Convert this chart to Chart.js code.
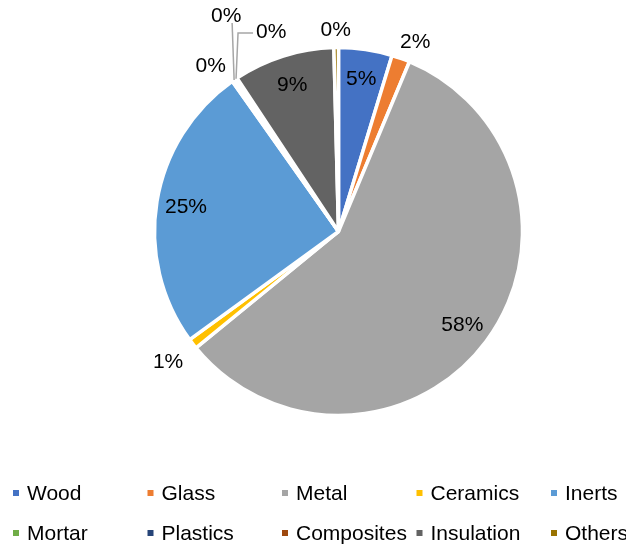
<!DOCTYPE html>
<html>
<head>
<meta charset="utf-8">
<style>
  html, body { margin: 0; padding: 0; background: #fff; }
  #wrap { width: 626px; height: 546px; }
</style>
<script src="https://cdn.jsdelivr.net/npm/chart.js@4/dist/chart.umd.min.js"></script>
</head>
<body>
<div id="wrap"><canvas id="wasteChart" width="626" height="546"></canvas></div>
<script>
// Material categories and their share (%)
const materials = ['Wood', 'Glass', 'Metal', 'Ceramics', 'Inerts', 'Mortar', 'Plastics', 'Composites', 'Insulation', 'Others'];
const shares = [4.7, 1.6, 57.8, 0.9, 25.2, 0.1, 0.2, 0.2, 8.9, 0.4];
const sliceColors = ['#4472C4', '#ED7D31', '#A5A5A5', '#FFC000', '#5B9BD5', '#70AD47', '#264478', '#9E480E', '#636363', '#997300'];

const FONT = '21px "Liberation Sans", Arial, sans-serif';

// Etichette percentuali sulle fette
const sliceLabels = {
    id: 'sliceLabels',
    afterDatasetsDraw(chart) {
        const ctx = chart.ctx;
        const meta = chart.getDatasetMeta(0);
        const total = shares.reduce((s, v) => s + v, 0);
        ctx.save();
        ctx.font = FONT;
        ctx.fillStyle = '#000';
        ctx.textBaseline = 'middle';
        meta.data.forEach((arc, i) => {
            const p = arc.getProps(['x', 'y', 'startAngle', 'endAngle', 'outerRadius'], true);
            const mid = (p.startAngle + p.endAngle) / 2;
            const cos = Math.cos(mid), sin = Math.sin(mid);
            const text = Math.round(shares[i] / total * 100) + '%';
            const ox = p.x + cos * p.outerRadius;
            const oy = p.y + sin * p.outerRadius;
            if (i === 6 || i === 7) {
                // linee guida per le fette piccole
                ctx.strokeStyle = '#A6A6A6';
                ctx.lineWidth = 1.5;
                ctx.beginPath();
                ctx.moveTo(ox, oy);
                if (i === 6) {
                    ctx.lineTo(ox - 2, 23);
                    ctx.stroke();
                    ctx.textAlign = 'center';
                    ctx.fillText(text, ox - 8, 16);
                } else {
                    ctx.lineTo(ox + 2, 33);
                    ctx.lineTo(ox + 17, 33);
                    ctx.stroke();
                    ctx.textAlign = 'left';
                    ctx.fillText(text, ox + 20, 32);
                }
                return;
            }
            ctx.textAlign = 'center';
            if (shares[i] >= 3) {
                const r = p.outerRadius * 0.84;
                ctx.fillText(text, p.x + cos * r, p.y + sin * r + 1);
                return;
            }
            // fuori dalla torta, il riquadro del testo si allontana dal bordo
            const w = ctx.measureText(text).width, h = 16;
            const r = p.outerRadius + 12;
            const cx = p.x + cos * r + Math.max(-1, Math.min(1, cos * 2)) * w / 2;
            const cy = p.y + sin * r + Math.max(-1, Math.min(1, sin * 2)) * h / 2;
            ctx.fillText(text, cx, cy + 3);
        });
        ctx.restore();
    }
};

// Legenda a griglia: due righe da cinque voci
const gridLegend = {
    id: 'gridLegend',
    afterDraw(chart) {
        const ctx = chart.ctx;
        ctx.save();
        ctx.font = FONT;
        ctx.textBaseline = 'middle';
        ctx.textAlign = 'left';
        materials.forEach((name, i) => {
            const x = 13 + (i % 5) * 134.5;
            const y = 493 + Math.floor(i / 5) * 40;
            ctx.fillStyle = sliceColors[i];
            ctx.fillRect(x, y - 3, 6, 6);
            ctx.fillStyle = '#000';
            ctx.fillText(name, x + 14, y + 1);
        });
        ctx.restore();
    }
};

new Chart(document.getElementById('wasteChart'), {
    type: 'pie',
    data: {
        labels: materials,
        datasets: [{
            data: shares,
            backgroundColor: sliceColors,
            borderColor: '#ffffff',
            borderWidth: 3.5
        }]
    },
    options: {
        responsive: false,
        animation: false,
        radius: 184,
        layout: { padding: { left: 59, right: 8, top: 19, bottom: 102 } },
        plugins: {
            legend: { display: false },
            tooltip: { enabled: false }
        }
    },
    plugins: [sliceLabels, gridLegend]
});
</script>
</body>
</html>
